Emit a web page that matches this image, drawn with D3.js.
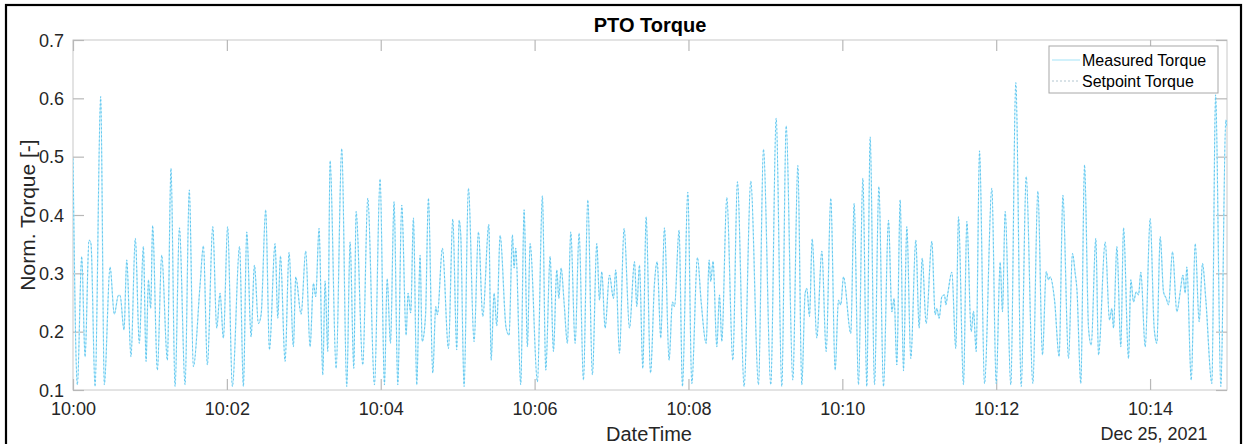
<!DOCTYPE html>
<html>
<head>
<meta charset="utf-8">
<script src="https://cdn.jsdelivr.net/npm/d3@7"></script>
<style>
  html, body { margin: 0; padding: 0; background: #fff; }
  svg { display: block; font-family: "Liberation Sans", Arial, Helvetica, sans-serif; }
</style>
</head>
<body>
<svg id="chart" width="1247" height="444"></svg>
<script>
// ---- Data ----
// seconds after 10:00:00 on Dec 25, 2021 (turning points of the signal)
const timeSeconds = [
  0, 3.4, 6.8, 9.4, 12.5, 14.0, 17.2, 21.6, 24.4, 28.9, 32.2, 35.4, 36.7, 39.8, 41.9, 45.2, 48.6, 51.7, 54.9, 57.0,
  58.8, 60.6, 62.1, 65.8, 69.2, 73.6, 76.4, 79.6, 83.0, 87.4, 90.7, 93.9, 99.1, 101.7, 104.8, 109.0, 112.1, 114.7, 117.3, 120.6,
  124.3, 129.9, 132.9, 135.5, 138.9, 141.5, 144.6, 146.7, 150.3, 153.2, 157.6, 159.7, 161.8, 165.4, 168.5, 171.9, 173.7, 177.9, 181.5, 184.9,
  187.5, 189.3, 191.9, 194.8, 196.6, 198.7, 200.5, 205.2, 209.6, 213.5, 216.1, 219.0, 220.8, 226.0, 229.9, 235.1, 239.5, 242.9, 245.0, 247.6,
  250.4, 253.3, 256.4, 259.8, 261.3, 263.4, 265.5, 268.1, 270.7, 272.3, 274.9, 277.2, 280.6, 282.9, 284.2, 288.1, 292.8, 296.2, 299.3, 301.1,
  302.4, 305.0, 308.4, 312.8, 316.2, 319.6, 324.3, 326.1, 328.4, 330.5, 333.1, 337.8, 340.1, 342.7, 344.0, 345.3, 349.2, 351.8, 354.4, 356.5,
  362.2, 366.1, 368.7, 372.1, 374.7, 377.3, 378.9, 380.7, 383.0, 385.6, 388.2, 391.6, 394.7, 398.1, 401.5, 405.1, 408.5, 410.6, 412.4, 415.0,
  418.4, 421.5, 423.3, 426.2, 429.8, 434.0, 437.9, 439.7, 441.8, 444.4, 447.0, 450.4, 453.5, 455.6, 458.4, 461.3, 464.9, 467.5, 469.1, 472.7,
  475.3, 479.5, 482.6, 487.0, 489.9, 493.8, 496.1, 497.4, 499.2, 502.1, 504.2, 506.0, 509.9, 514.6, 518.2, 523.4, 528.6, 534.6, 538.5, 544.2,
  548.4, 552.8, 556.2, 561.4, 565.3, 568.4, 571.0, 572.3, 574.4, 576.5, 580.1, 584.0, 587.4, 591.0, 594.4, 597.0, 598.8, 600.9, 606.6, 609.2,
  612.6, 616.0, 619.1, 621.7, 625.1, 628.5, 632.1, 636.0, 638.6, 640.4, 642.5, 645.1, 647.7, 650.3, 653.4, 657.3, 659.9, 662.3, 665.4, 669.8,
  672.4, 673.7, 675.5, 677.6, 679.7, 680.7, 682.3, 685.4, 688.5, 690.6, 694.5, 697.1, 700.5, 702.3, 704.4, 707.0, 710.9, 716.6, 720.0, 723.1,
  724.9, 727.0, 731.4, 735.3, 739.5, 743.4, 748.6, 752.5, 756.1, 759.0, 760.8, 762.1, 765.5, 769.1, 772.0, 776.4, 779.5, 781.6, 782.9, 786.0,
  788.9, 792.0, 794.1, 797.7, 799.8, 805.0, 808.4, 810.2, 811.5, 814.1, 817.2, 819.3, 823.2, 825.0, 827.1, 829.2, 831.0, 832.8, 836.2, 840.1,
  843.2, 845.3, 847.9, 850.5, 852.6, 854.4, 857.5, 860.9, 863.5, 865.6, 867.4, 868.7, 872.1, 875.2, 878.3, 880.9, 883.5, 888.2, 891.1, 895.2,
  899.1, 900
];
const measuredTorque = [
  0.497, 0.109, 0.329, 0.157, 0.357, 0.351, 0.106, 0.603, 0.109, 0.311, 0.230, 0.262, 0.262, 0.203, 0.323, 0.157, 0.360, 0.180, 0.346, 0.149,
  0.289, 0.240, 0.382, 0.134, 0.331, 0.151, 0.480, 0.106, 0.378, 0.109, 0.443, 0.140, 0.280, 0.347, 0.143, 0.380, 0.206, 0.266, 0.189, 0.380,
  0.106, 0.346, 0.106, 0.371, 0.191, 0.314, 0.214, 0.229, 0.409, 0.169, 0.351, 0.223, 0.330, 0.149, 0.336, 0.174, 0.294, 0.230, 0.338, 0.174,
  0.283, 0.260, 0.377, 0.126, 0.287, 0.166, 0.493, 0.137, 0.514, 0.106, 0.354, 0.137, 0.406, 0.143, 0.429, 0.109, 0.462, 0.109, 0.291, 0.180,
  0.423, 0.109, 0.417, 0.194, 0.266, 0.232, 0.395, 0.109, 0.331, 0.183, 0.226, 0.429, 0.129, 0.243, 0.229, 0.343, 0.171, 0.393, 0.169, 0.391,
  0.366, 0.106, 0.446, 0.183, 0.371, 0.226, 0.384, 0.151, 0.266, 0.210, 0.365, 0.206, 0.194, 0.366, 0.309, 0.343, 0.109, 0.409, 0.174, 0.351,
  0.114, 0.433, 0.134, 0.329, 0.166, 0.306, 0.257, 0.309, 0.250, 0.180, 0.371, 0.180, 0.369, 0.117, 0.426, 0.126, 0.351, 0.254, 0.303, 0.206,
  0.297, 0.257, 0.306, 0.163, 0.377, 0.206, 0.320, 0.243, 0.314, 0.137, 0.397, 0.129, 0.283, 0.320, 0.189, 0.378, 0.151, 0.251, 0.243, 0.374,
  0.106, 0.439, 0.111, 0.327, 0.251, 0.180, 0.323, 0.286, 0.321, 0.174, 0.263, 0.183, 0.430, 0.151, 0.457, 0.106, 0.458, 0.109, 0.513, 0.109,
  0.566, 0.106, 0.553, 0.117, 0.485, 0.109, 0.266, 0.274, 0.226, 0.359, 0.189, 0.338, 0.166, 0.429, 0.134, 0.254, 0.246, 0.294, 0.197, 0.420,
  0.109, 0.463, 0.106, 0.534, 0.109, 0.449, 0.106, 0.391, 0.234, 0.257, 0.143, 0.426, 0.133, 0.380, 0.154, 0.357, 0.206, 0.326, 0.214, 0.355,
  0.229, 0.240, 0.223, 0.260, 0.263, 0.246, 0.266, 0.302, 0.171, 0.397, 0.109, 0.389, 0.200, 0.235, 0.166, 0.510, 0.111, 0.446, 0.111, 0.319,
  0.234, 0.406, 0.109, 0.627, 0.106, 0.466, 0.111, 0.441, 0.160, 0.303, 0.289, 0.294, 0.254, 0.157, 0.434, 0.154, 0.334, 0.300, 0.274, 0.111,
  0.486, 0.206, 0.177, 0.360, 0.160, 0.354, 0.220, 0.240, 0.206, 0.346, 0.174, 0.378, 0.154, 0.289, 0.251, 0.268, 0.263, 0.302, 0.174, 0.394,
  0.206, 0.180, 0.363, 0.268, 0.257, 0.246, 0.337, 0.234, 0.268, 0.297, 0.266, 0.311, 0.117, 0.351, 0.217, 0.317, 0.254, 0.111, 0.606, 0.106,
  0.563, 0.550
];
// The setpoint trace lies on top of the measured trace in the picture
const setpointTorque = measuredTorque;

const seriesNames = ["Measured Torque", "Setpoint Torque"];
const xTickMinutes = [0, 2, 4, 6, 8, 10, 12, 14];
const yTickValues = [0.1, 0.2, 0.3, 0.4, 0.5, 0.6, 0.7];
const dateLabel = "Dec 25, 2021";
const titleText = "PTO Torque";
const xLabelText = "DateTime";
const yLabelText = "Norm. Torque [-]";

// ---- Layout ----
const svg = d3.select("#chart");
const L = 73, R = 1227, T = 40, B = 390;
const base = new Date(2021, 11, 25, 10, 0, 0);
const toDate = s => new Date(base.getTime() + s * 1000);

const x = d3.scaleTime().domain([base, toDate(900)]).range([L, R]);
const y = d3.scaleLinear().domain([0.1, 0.7]).range([B, T]);

// outer figure frame
svg.append("rect").attr("x", 6).attr("y", 5).attr("width", 1235).attr("height", 470)
  .attr("fill", "#fff").attr("stroke", "#000").attr("stroke-width", 2.2);

// axes box
svg.append("rect").attr("x", L).attr("y", T).attr("width", R - L).attr("height", B - T)
  .attr("fill", "#fff").attr("stroke", "#c8c8c8").attr("stroke-width", 1);

svg.append("defs").append("clipPath").attr("id", "clip")
  .append("rect").attr("x", L).attr("y", T - 1).attr("width", R - L).attr("height", B - T + 2);

const tickCol = "#b8b8b8";
const labelCol = "#262626";
const xTicks = xTickMinutes.map(m => toDate(m * 60));

const gx = svg.append("g").attr("transform", `translate(0,${B})`)
  .call(d3.axisBottom(x).tickValues(xTicks).tickFormat(d3.timeFormat("%H:%M"))
    .tickSizeInner(-11).tickSizeOuter(0).tickPadding(12));
const gxt = svg.append("g").attr("transform", `translate(0,${T})`)
  .call(d3.axisTop(x).tickValues(xTicks).tickFormat("").tickSizeInner(-11).tickSizeOuter(0));
const gy = svg.append("g").attr("transform", `translate(${L},0)`)
  .call(d3.axisLeft(y).tickValues(yTickValues).tickFormat(d3.format(".1f"))
    .tickSizeInner(-11).tickSizeOuter(0).tickPadding(9));
const gyr = svg.append("g").attr("transform", `translate(${R},0)`)
  .call(d3.axisRight(y).tickValues(yTickValues).tickFormat("").tickSizeInner(-11).tickSizeOuter(0));

[gx, gxt, gy, gyr].forEach(g => {
  g.select(".domain").remove();
  g.selectAll(".tick line").attr("stroke", tickCol).attr("stroke-width", 1.2);
  g.selectAll(".tick text").attr("fill", labelCol).attr("font-size", 18)
    .attr("font-family", '"Liberation Sans", Arial, sans-serif');
});
gy.selectAll(".tick text").attr("dy", "0.34em");

// ---- Lines ----
const pts = timeSeconds.map((s, i) => ({ t: toDate(s), m: measuredTorque[i], s: setpointTorque[i] }));
const lineM = d3.line().x(d => x(d.t)).y(d => y(d.m)).curve(d3.curveMonotoneX);
const lineS = d3.line().x(d => x(d.t)).y(d => y(d.s)).curve(d3.curveMonotoneX);

const plot = svg.append("g").attr("clip-path", "url(#clip)");
plot.append("path").datum(pts).attr("d", lineM)
  .attr("fill", "none").attr("stroke", "#b8eaf9").attr("stroke-width", 1.3);
plot.append("path").datum(pts).attr("d", lineS)
  .attr("fill", "none").attr("stroke", "#4dbeee").attr("stroke-width", 0.8)
  .attr("stroke-dasharray", "2,2");

// ---- Texts ----
svg.append("text").attr("x", (L + R) / 2).attr("y", 32).attr("text-anchor", "middle")
  .attr("font-size", 20).attr("font-weight", "bold").attr("fill", "#000").text(titleText);

svg.append("text").attr("x", 649).attr("y", 441).attr("text-anchor", "middle")
  .attr("font-size", 20).attr("fill", labelCol).text(xLabelText);

svg.append("text").attr("x", 1154).attr("y", 440).attr("text-anchor", "middle")
  .attr("font-size", 18).attr("fill", labelCol).text(dateLabel);

svg.append("text").attr("transform", `translate(35,${(T + B) / 2}) rotate(-90)`)
  .attr("text-anchor", "middle").attr("font-size", 21).attr("fill", labelCol).text(yLabelText);

// ---- Legend ----
const lg = svg.append("g");
lg.append("rect").attr("x", 1049).attr("y", 46).attr("width", 169).attr("height", 47)
  .attr("fill", "#fff").attr("stroke", "#a8a8a8").attr("stroke-width", 1);
const legendStyles = [
  { stroke: "#b8eaf9", width: 1.3, dash: null },
  { stroke: "#9fb8c4", width: 0.8, dash: "2,2" }
];
seriesNames.forEach((name, i) => {
  const cy = 60 + i * 21;
  lg.append("line").attr("x1", 1052).attr("x2", 1080).attr("y1", cy).attr("y2", cy)
    .attr("stroke", legendStyles[i].stroke).attr("stroke-width", legendStyles[i].width)
    .attr("stroke-dasharray", legendStyles[i].dash);
  lg.append("text").attr("x", 1082).attr("y", cy + 6).attr("font-size", 16)
    .attr("fill", "#000").text(name);
});
</script>
</body>
</html>
